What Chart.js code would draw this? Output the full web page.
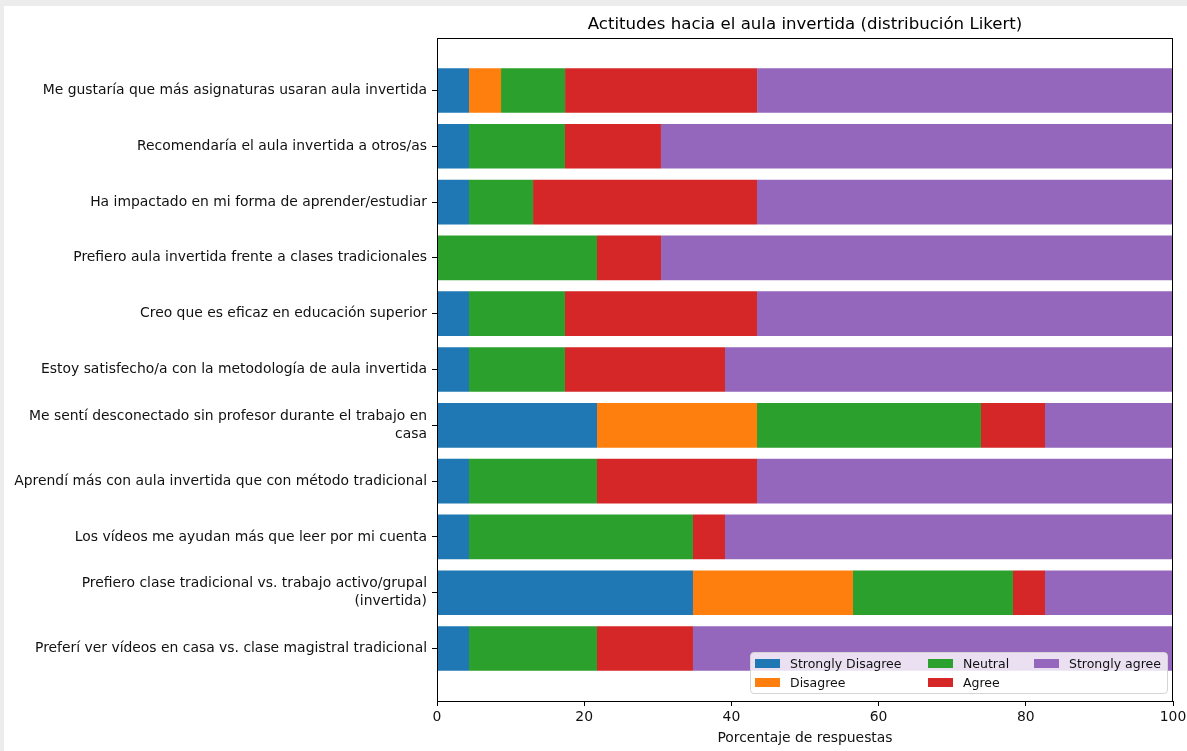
<!DOCTYPE html>
<html>
<head>
<meta charset="utf-8">
<script src="https://cdn.jsdelivr.net/npm/chart.js@4"></script>
<style>
    body { margin: 0; background: #ececec; width: 1187px; height: 751px; overflow: hidden; font-family: "DejaVu Sans", sans-serif; }
    #figure { position: absolute; left: 4px; top: 6px; width: 1183px; height: 745px; background: #fff; }
    #legend {
        position: absolute; left: 746px; top: 646px; width: 416px; height: 40px;
        background: rgba(255, 255, 255, 0.8); border: 1px solid #d4d4d4; border-radius: 4px;
        font-size: 12.5px; line-height: 15px; color: #111;
    }
    .item { position: absolute; display: flex; align-items: center; white-space: nowrap; }
    .swatch { width: 25px; height: 9px; margin-right: 10px; }
</style>
</head>
<body>
<div id="figure">
    <canvas id="chart"></canvas>
    <div id="legend"></div>
</div>
<script>
const chartTitle = 'Actitudes hacia el aula invertida (distribución Likert)';

const categories = [
    'Me gustaría que más asignaturas usaran aula invertida',
    'Recomendaría el aula invertida a otros/as',
    'Ha impactado en mi forma de aprender/estudiar',
    'Prefiero aula invertida frente a clases tradicionales',
    'Creo que es eficaz en educación superior',
    'Estoy satisfecho/a con la metodología de aula invertida',
    ['Me sentí desconectado sin profesor durante el trabajo en', 'casa'],
    'Aprendí más con aula invertida que con método tradicional',
    'Los vídeos me ayudan más que leer por mi cuenta',
    ['Prefiero clase tradicional vs. trabajo activo/grupal', '(invertida)'],
    'Preferí ver vídeos en casa vs. clase magistral tradicional'
];

const seriesNames = ['Strongly Disagree', 'Disagree', 'Neutral', 'Agree', 'Strongly agree'];
const seriesColors = ['#1f77b4', '#ff7f0e', '#2ca02c', '#d62728', '#9467bd'];

const stronglyDisagree = [4.35, 4.35, 4.35, 0, 4.35, 4.35, 21.74, 4.35, 4.35, 34.78, 4.35];
const disagree         = [4.35, 0, 0, 0, 0, 0, 21.74, 0, 0, 21.74, 0];
const neutral          = [8.70, 13.04, 8.70, 21.74, 13.04, 13.04, 30.43, 17.39, 30.43, 21.74, 17.39];
const agree            = [26.09, 13.04, 30.43, 8.70, 26.09, 21.74, 8.70, 21.74, 4.35, 4.35, 13.04];
const stronglyAgree    = [56.52, 69.57, 56.52, 69.57, 56.52, 60.87, 17.39, 56.52, 60.87, 17.39, 65.22];

const xTicks = [0, 20, 40, 60, 80, 100];

const series = [stronglyDisagree, disagree, neutral, agree, stronglyAgree];
const font = { family: 'DejaVu Sans', size: 13.9 };

// frame around the plot area (matplotlib spines) and the title centred over it
const framePlugin = {
    id: 'frame',
    afterDatasetsDraw(chart) {
        const { ctx, chartArea: a } = chart;
        ctx.save();
        ctx.strokeStyle = '#000';
        ctx.lineWidth = 1;
        ctx.strokeRect(Math.round(a.left) + 0.5, Math.round(a.top) + 0.5,
            Math.round(a.right - a.left) - 1, Math.round(a.bottom - a.top));
        ctx.fillStyle = '#000';
        ctx.font = '16.6px "DejaVu Sans"';
        ctx.textAlign = 'center';
        ctx.textBaseline = 'middle';
        ctx.fillText(chartTitle, (a.left + a.right) / 2, a.top - 13);
        ctx.restore();
    }
};

new Chart(document.getElementById('chart'), {
    type: 'bar',
    data: {
        datasets: series.map((values, s) => ({
            label: seriesNames[s],
            data: values.map((v, i) => ({ x: v, y: i })),
            backgroundColor: seriesColors[s],
            borderWidth: 0,
            categoryPercentage: 1,
            barPercentage: 0.8
        }))
    },
    options: {
        indexAxis: 'y',
        responsive: true,
        maintainAspectRatio: false,
        animation: false,
        layout: { padding: { left: 0, right: 14, top: 32, bottom: 0 } },
        plugins: {
            legend: { display: false },
            tooltip: { enabled: false },
            title: { display: false }
        },
        scales: {
            x: {
                type: 'linear',
                stacked: true,
                min: 0,
                max: 100,
                afterBuildTicks: scale => { scale.ticks = xTicks.map(v => ({ value: v })); },
                afterFit: scale => { scale.height = 50; scale.paddingLeft = 0; scale.paddingRight = 0; },
                ticks: { color: '#111', font, padding: 3, maxRotation: 0 },
                grid: { drawOnChartArea: false, tickLength: 5, tickColor: '#000' },
                border: { color: '#000' },
                title: {
                    display: true,
                    text: 'Porcentaje de respuestas',
                    color: '#111',
                    font,
                    padding: { top: 0, bottom: 4 }
                }
            },
            y: {
                type: 'linear',
                stacked: true,
                reverse: true,
                offset: false,
                min: -0.94,
                max: 10.94,
                afterBuildTicks: scale => { scale.ticks = categories.map((_, i) => ({ value: i })); },
                afterFit: scale => { scale.width = 433; scale.paddingTop = 0; scale.paddingBottom = 0; },
                ticks: { color: '#111', font: { ...font, lineHeight: 1.3 }, padding: 5, callback: v => categories[v] },
                grid: { offset: false, drawOnChartArea: false, tickLength: 5, tickColor: '#000' },
                border: { color: '#000' }
            }
        }
    },
    plugins: [framePlugin]
});

// legend laid out column-wise, matplotlib style
const legend = document.getElementById('legend');
const colX = [4, 177, 283];
seriesNames.forEach((name, i) => {
    const item = document.createElement('div');
    item.className = 'item';
    item.style.left = colX[Math.floor(i / 2)] + 'px';
    item.style.top = (i % 2 === 0 ? 3 : 22) + 'px';
    item.innerHTML = `<span class="swatch" style="background:${seriesColors[i]}"></span><span>${name}</span>`;
    legend.appendChild(item);
});
</script>
</body>
</html>
